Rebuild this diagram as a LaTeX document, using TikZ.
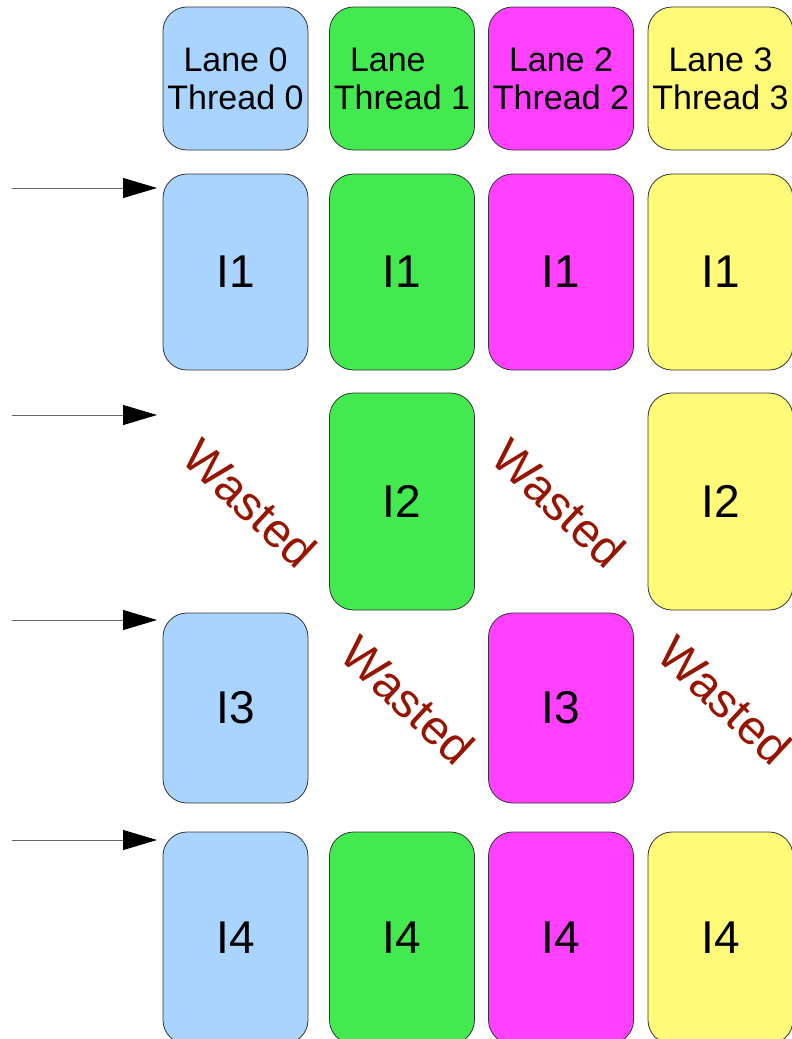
\documentclass[tikz,border=0pt]{standalone}
\usepackage{fontspec}
\setmainfont{Liberation Sans}
\usetikzlibrary{arrows.meta}
\definecolor{lblue}{RGB}{169,212,255}
\definecolor{lgreen}{RGB}{66,234,80}
\definecolor{lmag}{RGB}{255,64,255}
\definecolor{lyel}{RGB}{255,250,120}
\definecolor{wred}{RGB}{150,20,0}
\tikzset{
  lanebox/.style={draw=black!80, line width=0.8pt, rounded corners=24pt, minimum width=145pt, inner sep=0pt, align=center},
  hdr/.style={lanebox, minimum height=143pt, font=\fontsize{34}{38}\selectfont},
  ins/.style={lanebox, font=\fontsize{46}{50}\selectfont},
  wasted/.style={text=wred, rotate=-43, font=\fontsize{48}{50}\selectfont, inner sep=0pt},
  flow/.style={draw=black!60, line width=0.9pt, -{Triangle[length=34pt,width=20pt,fill=black,color=black]}}
}
\begin{document}
\begin{tikzpicture}[x=1pt,y=-1pt]
\useasboundingbox (0,0) rectangle (792,1039);
\clip (0,0) rectangle (792,1039);
% header
\node[hdr, fill=lblue] (h0) at (235.5,78.5) {Lane 0\\Thread 0};
\node[hdr, fill=lgreen] (h1) at (402,78.5) {Lane\hphantom{ 1}\\Thread 1};
\node[hdr, fill=lmag] (h2) at (561,78.5) {Lane 2\\Thread 2};
\node[hdr, fill=lyel] (h3) at (720.5,78.5) {Lane 3\\Thread 3};
% row 1
\node[ins, minimum height=196pt, fill=lblue] (a0) at (235.5,272) {I1};
\node[ins, minimum height=196pt, fill=lgreen] (a1) at (402,272) {I1};
\node[ins, minimum height=196pt, fill=lmag] (a2) at (561,272) {I1};
\node[ins, minimum height=196pt, fill=lyel] (a3) at (720.5,272) {I1};
% row 2
\node[ins, minimum height=217pt, fill=lgreen] (b1) at (402,501.5) {I2};
\node[ins, minimum height=217pt, fill=lyel] (b3) at (720.5,501.5) {I2};
\node[wasted] (bw0) at (250,503) {Wasted};
\node[wasted] (bw2) at (559,503) {Wasted};
% row 3
\node[ins, minimum height=190pt, fill=lblue] (c0) at (235.5,708) {I3};
\node[ins, minimum height=190pt, fill=lmag] (c2) at (561,708) {I3};
\node[wasted] (cw1) at (408,700) {Wasted};
\node[wasted] (cw3) at (725,700) {Wasted};
% row 4
\node[ins, minimum height=212pt, fill=lblue] (d0) at (235.5,938) {I4};
\node[ins, minimum height=212pt, fill=lgreen] (d1) at (402,938) {I4};
\node[ins, minimum height=212pt, fill=lmag] (d2) at (561,938) {I4};
\node[ins, minimum height=212pt, fill=lyel] (d3) at (720.5,938) {I4};
% arrows
\coordinate (s1) at (12,188); \coordinate (e1) at (157,188);
\coordinate (s2) at (12,415); \coordinate (e2) at (157,415);
\coordinate (s3) at (12,620); \coordinate (e3) at (157,620);
\coordinate (s4) at (12,840); \coordinate (e4) at (157,840);
\draw[flow] (s1) -- (e1);
\draw[flow] (s2) -- (e2);
\draw[flow] (s3) -- (e3);
\draw[flow] (s4) -- (e4);
\end{tikzpicture}
\end{document}
